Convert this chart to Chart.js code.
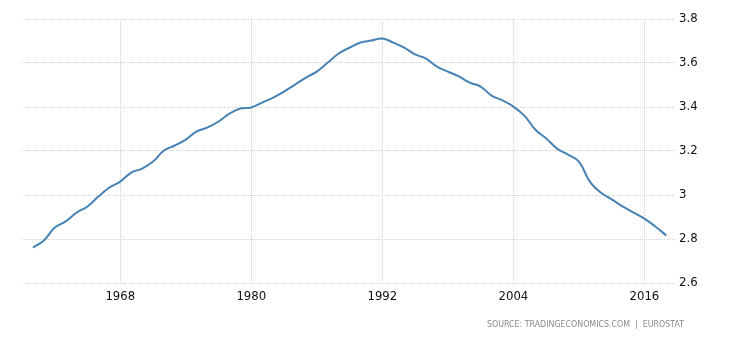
<!DOCTYPE html>
<html>
<head>
<meta charset="utf-8">
<script src="https://cdn.jsdelivr.net/npm/chart.js@4"></script>
<style>
html,body{margin:0;padding:0;background:#fff;}
#wrap{position:relative;width:730px;height:340px;}
</style>
</head>
<body>
<div id="wrap"><canvas id="c" width="730" height="340"></canvas></div>
<script>
const years = [1960,1961,1962,1963,1964,1965,1966,1967,1968,1969,1970,1971,1972,1973,1974,1975,1976,1977,1978,1979,1980,1981,1982,1983,1984,1985,1986,1987,1988,1989,1990,1991,1992,1993,1994,1995,1996,1997,1998,1999,2000,2001,2002,2003,2004,2005,2006,2007,2008,2009,2010,2011,2012,2013,2014,2015,2016,2017,2018];
const values = [2.761,2.793,2.852,2.880,2.920,2.948,2.993,3.034,3.061,3.102,3.120,3.152,3.202,3.225,3.252,3.289,3.307,3.334,3.370,3.393,3.398,3.420,3.443,3.470,3.502,3.534,3.561,3.602,3.643,3.670,3.693,3.702,3.711,3.693,3.670,3.639,3.620,3.584,3.561,3.539,3.511,3.493,3.452,3.430,3.402,3.361,3.298,3.257,3.211,3.184,3.152,3.061,3.011,2.980,2.948,2.920,2.893,2.857,2.816];
const xTicks = [1968,1980,1992,2004,2016];
const yTicks = [2.6,2.8,3.0,3.2,3.4,3.6,3.8];
const sourceText = "SOURCE: TRADINGECONOMICS.COM  |  EUROSTAT";

const FONT = "'Liberation Sans Narrow','DejaVu Sans Condensed','Liberation Sans',Arial,sans-serif";

const sourcePlugin = {
  id: 'source',
  afterDraw(chart) {
    const ctx = chart.ctx;
    ctx.save();
    ctx.font = "9px 'DejaVu Sans', sans-serif";
    ctx.fillStyle = '#8a8a8a';
    ctx.textAlign = 'right';
    ctx.textBaseline = 'middle';
    ctx.fillText(sourceText, 684, 325, 197);
    ctx.restore();
  }
};

new Chart(document.getElementById('c'), {
  type: 'line',
  data: {
    datasets: [{
      data: years.map((y, i) => ({x: y, y: values[i]})),
      borderColor: '#4682b4',
      borderWidth: 2,
      pointRadius: 0,
      tension: 0.4,
      fill: false
    }]
  },
  options: {
    responsive: false,
    animation: false,
    events: [],
    layout: {padding: {left: 22, top: 19, right: 0, bottom: 0}},
    plugins: {legend: {display: false}, tooltip: {enabled: false}},
    scales: {
      x: {
        type: 'linear',
        min: 1959,
        max: 2018.8,
        afterBuildTicks: (s) => { s.ticks = xTicks.map(v => ({value: v})); },
        afterFit: (s) => { s.height = 57; },
        border: {display: false, dash: [1, 1]},
        grid: {color: '#d2d2d2', drawTicks: false},
        ticks: {
          padding: 6,
          color: '#111',
          font: {family: FONT, size: 13},
          maxRotation: 0,
          autoSkip: false,
          callback: (v) => String(v)
        }
      },
      y: {
        position: 'right',
        min: 2.6,
        max: 3.8,
        afterBuildTicks: (s) => { s.ticks = yTicks.map(v => ({value: v})); },
        afterFit: (s) => { s.width = 55; },
        border: {display: false, dash: [1, 1]},
        grid: {color: '#d2d2d2', drawTicks: false},
        ticks: {
          padding: 4,
          color: '#111',
          font: {family: FONT, size: 13},
          callback: (v) => String(Math.round(v * 10) / 10)
        }
      }
    }
  },
  plugins: [sourcePlugin]
});
</script>
</body>
</html>
